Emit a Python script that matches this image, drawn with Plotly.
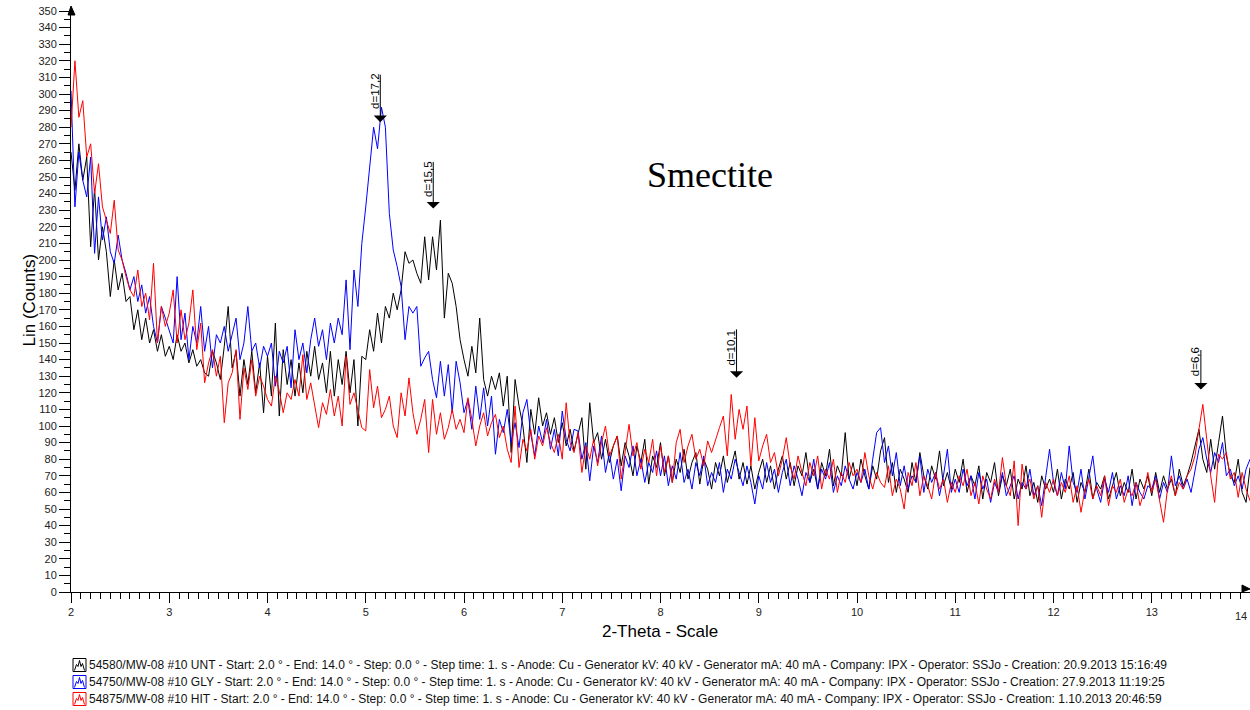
import numpy as np
import plotly.graph_objects as go

# 2-theta scan grid (2.00 .. 14.00, 0.04 step)
two_theta = np.round(2.0 + 0.04 * np.arange(301), 2)

unt_counts = [
    265, 242, 270, 248, 262, 208, 243, 200, 220, 205, 178, 200, 182, 192, 175, 178, 158, 170, 152, 165, 150, 158, 145, 155, 142,
    148, 140, 155, 145, 150, 138, 146, 136, 140, 132, 130, 145, 138, 128, 148, 172, 135, 145, 118, 140, 125, 145, 120, 138, 108,
    142, 118, 162, 106, 146, 125, 140, 118, 138, 120, 145, 130, 148, 128, 138, 120, 145, 118, 140, 125, 145, 120, 140, 100, 142,
    140, 158, 145, 168, 150, 172, 165, 180, 170, 182, 205, 198, 200, 192, 186, 214, 188, 214, 194, 224, 165, 192, 186, 172, 152,
    140, 130, 148, 132, 165, 128, 118, 130, 122, 132, 112, 130, 84, 128, 112, 100, 78, 110, 95, 117, 100, 108, 95, 105, 90,
    102, 88, 98, 85, 95, 105, 74, 114, 90, 96, 80, 92, 78, 88, 94, 76, 90, 82, 70, 88, 78, 92, 65, 82, 75,
    90, 70, 82, 66, 80, 72, 86, 68, 78, 84, 65, 80, 74, 62, 78, 70, 82, 66, 75, 85, 68, 78, 65, 76, 62,
    72, 80, 66, 76, 62, 74, 82, 68, 78, 64, 76, 70, 84, 66, 74, 62, 78, 70, 86, 64, 76, 70, 96, 68, 78,
    64, 80, 70, 62, 76, 68, 85, 93, 66, 78, 60, 74, 68, 60, 78, 66, 84, 70, 62, 76, 68, 85, 64, 72, 62,
    74, 66, 80, 60, 70, 64, 76, 56, 72, 66, 78, 58, 70, 64, 74, 56, 68, 62, 76, 58, 66, 54, 70, 62, 68,
    60, 74, 56, 68, 62, 72, 54, 66, 60, 74, 56, 66, 62, 70, 56, 64, 72, 58, 66, 60, 74, 56, 68, 62, 70,
    58, 72, 60, 70, 62, 68, 58, 74, 64, 70, 78, 88, 98, 80, 72, 92, 74, 90, 106, 82, 70, 66, 80, 60, 54, 75,
]

gly_counts = [
    302, 232, 265, 248, 238, 262, 204, 238, 212, 226, 205, 198, 215, 200, 192, 182, 190, 175, 185, 168, 178, 160, 150, 172, 165,
    158, 150, 190, 152, 168, 140, 160, 150, 172, 145, 160, 135, 155, 150, 160, 145, 155, 165, 140, 150, 172, 145, 150, 135, 148,
    142, 150, 124, 145, 138, 148, 123, 158, 140, 150, 132, 152, 165, 148, 158, 140, 162, 150, 165, 155, 188, 146, 194, 172, 210,
    232, 258, 280, 267, 292, 280, 228, 206, 196, 184, 152, 172, 168, 172, 136, 141, 145, 128, 117, 139, 118, 137, 108, 139, 126,
    108, 116, 98, 124, 104, 123, 100, 118, 83, 104, 96, 110, 90, 102, 87, 108, 116, 95, 82, 100, 90, 104, 86, 98, 82,
    109, 92, 85, 98, 97, 80, 90, 67, 88, 78, 94, 72, 84, 68, 80, 61, 82, 75, 88, 70, 80, 66, 78, 72, 85,
    70, 82, 64, 76, 68, 84, 66, 74, 62, 78, 70, 82, 64, 72, 66, 78, 60, 74, 68, 80, 72, 64, 76, 66, 53,
    70, 62, 78, 66, 74, 60, 72, 80, 64, 76, 68, 58, 72, 66, 80, 62, 74, 68, 78, 60, 70, 64, 76, 68, 62,
    72, 66, 74, 62, 80, 96, 99, 78, 88, 70, 84, 64, 76, 62, 70, 66, 82, 60, 74, 66, 72, 58, 70, 86, 60,
    68, 60, 74, 64, 70, 56, 72, 62, 68, 54, 66, 60, 72, 58, 64, 70, 56, 66, 62, 74, 58, 64, 52, 70, 86,
    66, 58, 72, 62, 88, 66, 60, 74, 56, 68, 82, 62, 54, 68, 60, 72, 56, 64, 58, 70, 52, 66, 60, 56, 64,
    62, 70, 56, 66, 60, 82, 64, 70, 62, 68, 60, 72, 86, 93, 80, 72, 84, 78, 90, 70, 74, 64, 70, 62, 74, 80,
]

hit_counts = [
    280, 320, 286, 296, 262, 270, 240, 258, 232, 224, 216, 236, 206, 200, 190, 182, 178, 194, 172, 180, 164, 198, 150, 172, 160,
    168, 182, 150, 170, 152, 162, 182, 146, 162, 126, 138, 146, 130, 142, 102, 126, 132, 146, 104, 135, 122, 140, 118, 130, 124,
    116, 112, 130, 121, 108, 120, 116, 128, 118, 143, 116, 126, 112, 99, 114, 107, 122, 106, 118, 100, 142, 113, 120, 110, 99,
    97, 134, 111, 124, 105, 110, 118, 100, 93, 120, 106, 129, 108, 95, 104, 116, 84, 116, 95, 108, 92, 99, 110, 98, 104,
    96, 117, 104, 88, 100, 108, 94, 102, 107, 93, 100, 86, 78, 112, 75, 92, 85, 98, 80, 94, 88, 99, 90, 84, 95,
    80, 114, 90, 84, 96, 72, 88, 80, 92, 76, 90, 100, 82, 88, 94, 68, 86, 101, 82, 90, 74, 86, 78, 92, 70,
    88, 72, 82, 66, 90, 98, 78, 88, 95, 80, 86, 76, 91, 84, 92, 99, 106, 82, 119, 92, 110, 98, 112, 76, 105,
    79, 88, 95, 78, 84, 70, 80, 93, 76, 68, 82, 72, 64, 78, 70, 82, 62, 74, 68, 80, 60, 72, 66, 78, 70,
    74, 66, 84, 70, 62, 72, 66, 63, 76, 58, 68, 62, 50, 72, 64, 78, 58, 70, 64, 56, 72, 62, 68, 54, 66,
    60, 70, 64, 74, 58, 66, 53, 70, 62, 56, 68, 60, 81, 64, 58, 79, 40, 77, 62, 68, 56, 64, 45, 66, 60,
    68, 58, 66, 60, 70, 54, 64, 48, 62, 68, 56, 64, 58, 70, 52, 64, 60, 68, 54, 62, 58, 66, 52, 60, 72,
    60, 68, 56, 42, 62, 70, 58, 66, 62, 70, 74, 82, 98, 113, 92, 70, 54, 83, 80, 84, 68, 72, 57, 72, 62, 55,
]

series_names = ["UNT", "GLY", "HIT"]
series_colors = ["#000000", "#0000ff", "#ff0000"]
legend_texts = [
    "54580/MW-08 #10 UNT - Start: 2.0 ° - End: 14.0 ° - Step: 0.0 ° - Step time: 1. s - Anode: Cu - Generator kV: 40 kV - Generator mA: 40 mA - Company: IPX - Operator: SSJo - Creation: 20.9.2013 15:16:49",
    "54750/MW-08 #10 GLY - Start: 2.0 ° - End: 14.0 ° - Step: 0.0 ° - Step time: 1. s - Anode: Cu - Generator kV: 40 kV - Generator mA: 40 mA - Company: IPX - Operator: SSJo - Creation: 27.9.2013 11:19:25",
    "54875/MW-08 #10 HIT - Start: 2.0 ° - End: 14.0 ° - Step: 0.0 ° - Step time: 1. s - Anode: Cu - Generator kV: 40 kV - Generator mA: 40 mA - Company: IPX - Operator: SSJo - Creation: 1.10.2013 20:46:59",
]

peak_labels = ["d=17,2", "d=15,5", "d=10,1", "d=6,6"]
peak_pos = [5.148, 5.687, 8.774, 13.50]
peak_tip = [283, 231, 129, 122]
peak_text_y = [302, 249, 147, 139]
peak_len = [49, 48, 50, 41]

W, H = 1250, 710
L, R, T, B = 71, 0, 11, 118
PW, PH = W - L - R, H - T - B


def fx(px):
    return (px - L) / PW


def fy(py):
    return (H - B - py) / PH


FONT = "Liberation Sans, Arial, sans-serif"

fig = go.Figure()
for name, ys, col in zip(series_names, [unt_counts, gly_counts, hit_counts], series_colors):
    fig.add_trace(go.Scatter(x=two_theta, y=ys, mode="lines", name=name,
                             line=dict(color=col, width=1), showlegend=False))

annotations = []
for lab, xp, tip, ty, ln in zip(peak_labels, peak_pos, peak_tip, peak_text_y, peak_len):
    annotations.append(dict(x=xp, y=tip, xref="x", yref="y", text="", showarrow=True,
                            ax=0, ay=-ln, arrowhead=1, arrowsize=2.2, arrowwidth=1,
                            arrowcolor="black", standoff=0))
    annotations.append(dict(x=xp, y=ty, xref="x", yref="y", text=lab, showarrow=False,
                            textangle=-90, xshift=-6, font=dict(family=FONT, size=11.5, color="black")))

annotations.append(dict(x=8.5, y=251, xref="x", yref="y", text="Smectite", showarrow=False,
                        font=dict(family="Liberation Serif, Times New Roman, serif", size=36, color="black")))
annotations.append(dict(x=fx(660), y=fy(643), xref="paper", yref="paper", text="2-Theta - Scale",
                        showarrow=False, font=dict(family=FONT, size=17, color="black")))
annotations.append(dict(x=fx(17), y=fy(300), xref="paper", yref="paper", text="Lin (Counts)",
                        showarrow=False, textangle=-90, font=dict(family=FONT, size=17, color="black")))
# last x tick label, kept fully inside the right edge
annotations.append(dict(x=fx(1249), y=fy(616), xref="paper", yref="paper", text="14",
                        showarrow=False, xanchor="right", yanchor="middle",
                        font=dict(family=FONT, size=11, color="#222222")))

shapes = []
row_y = [665, 682, 699]
for txt, col, yc in zip(legend_texts, series_colors, row_y):
    annotations.append(dict(x=fx(87), y=fy(yc), xref="paper", yref="paper", text=txt,
                            showarrow=False, xanchor="left", yanchor="middle",
                            font=dict(family=FONT, size=12, color="#111111")))
    x0, x1 = 73, 86
    y0, y1 = yc - 6.5, yc + 6.5
    shapes.append(dict(type="rect", xref="paper", yref="paper", x0=fx(x0), x1=fx(x1),
                       y0=fy(y1), y1=fy(y0), line=dict(color=col, width=1)))
    pts = [(74.5, y1 - 1), (76.5, y0 + 6), (78, y0 + 8), (79.5, y0 + 2), (81, y0 + 8),
           (82.5, y0 + 5), (84.5, y1 - 1)]
    path = "M " + " L ".join(f"{fx(a):.5f},{fy(b):.5f}" for a, b in pts)
    shapes.append(dict(type="path", xref="paper", yref="paper", path=path,
                       line=dict(color=col, width=1)))

# axis arrowheads
shapes.append(dict(type="path", xref="paper", yref="paper",
                   path=f"M {fx(71)},{fy(6)} L {fx(68)},{fy(15)} L {fx(75)},{fy(15)} Z",
                   fillcolor="black", line=dict(color="black", width=1)))
shapes.append(dict(type="path", xref="paper", yref="paper",
                   path=f"M {fx(1250)},{fy(589)} L {fx(1242)},{fy(585)} L {fx(1242)},{fy(592)} Z",
                   fillcolor="black", line=dict(color="black", width=1)))

fig.update_layout(
    width=W, height=H,
    margin=dict(l=L, r=R, t=T, b=B),
    paper_bgcolor="white", plot_bgcolor="white",
    font=dict(family=FONT, size=11, color="black"),
    annotations=annotations, shapes=shapes,
    showlegend=False,
)
fig.update_xaxes(range=[2, 14], showgrid=False, zeroline=False, showline=True,
                 linecolor="black", linewidth=1, ticks="outside", ticklen=10, tickcolor="black",
                 dtick=1, tick0=2, tickfont=dict(family=FONT, size=11, color="#222222"),
                 minor=dict(dtick=0.1, ticklen=6, ticks="outside", tickcolor="black", showgrid=False))
fig.update_yaxes(range=[0, 350], showgrid=False, zeroline=False, showline=True,
                 linecolor="black", linewidth=1, ticks="outside", ticklen=11, tickcolor="black",
                 dtick=10, tick0=0, tickfont=dict(family=FONT, size=11, color="#222222"),
                 minor=dict(dtick=5, ticklen=6, ticks="outside", tickcolor="black", showgrid=False))

fig.write_html("out.html")
